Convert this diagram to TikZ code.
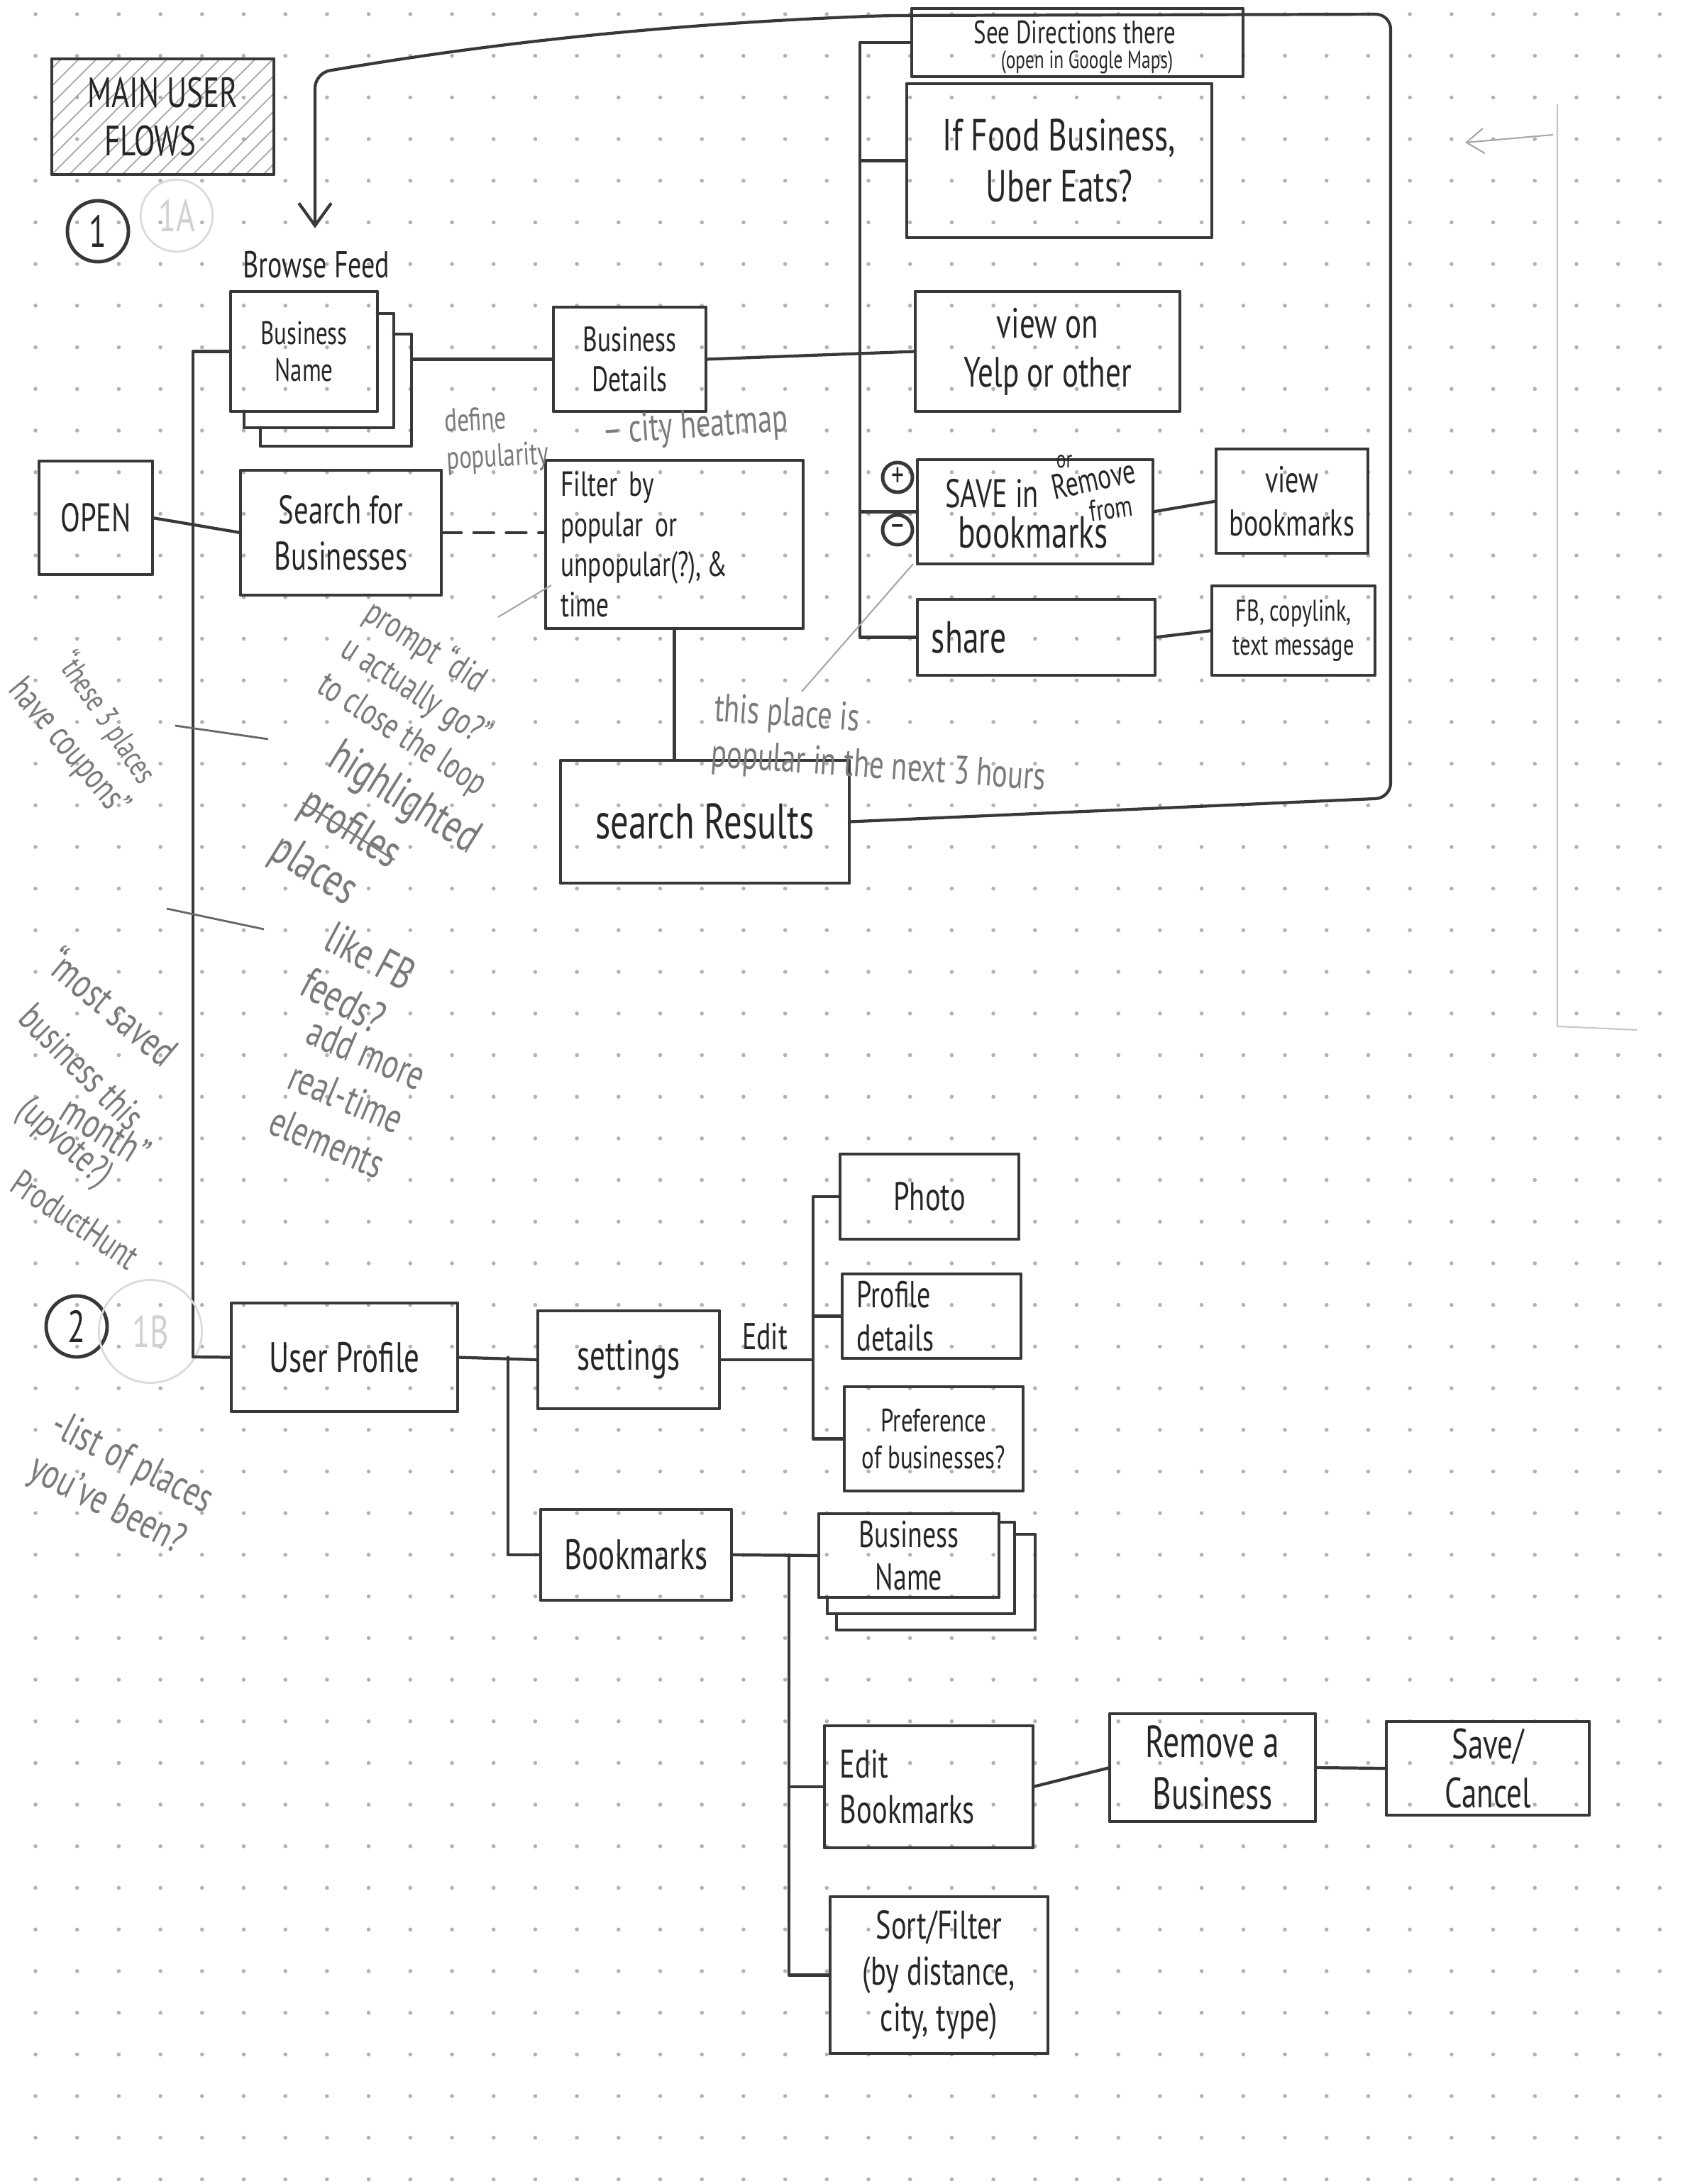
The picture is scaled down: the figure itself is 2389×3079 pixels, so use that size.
\documentclass[tikz,border=0pt]{standalone}
\usepackage{fontspec}
\setmainfont{PT Sans}[FakeStretch=0.72]
\usetikzlibrary{arrows.meta,patterns.meta}
\newcommand\fz[1]{\fontsize{#1}{\dimexpr#1pt*115/100\relax}\selectfont}
\newcommand\strikeout[1]{\setbox0\hbox{#1}\rlap{\usebox0}\rule[0.4ex]{\wd0}{0.7pt}}
% box from (x1,y1) to (x2,y2) in pixel units
\newcommand\bx[6][]{\node[box, minimum width={(#4-#2)*0.01cm}, minimum height={(#5-#3)*0.01cm}, #1] (#6) at ({(#2+#4)/2},{(#3+#5)/2})}
\newcommand\hb[5]{\node[hollow, minimum width={(#3-#1)*0.01cm}, minimum height={(#4-#2)*0.01cm}] (#5) at ({(#1+#3)/2},{(#2+#4)/2}) {};}
\begin{document}
\begin{tikzpicture}[x=0.01cm,y=-0.01cm,
  pencil/.style={draw=black!78, line width=1.4pt, line cap=round, line join=round},
  box/.style={pencil, rectangle, inner sep=0pt, outer sep=0pt, text=black!85, align=center},
  hollow/.style={rectangle, inner sep=0pt, outer sep=0pt},
  wire/.style={draw=black!78, line width=1.2pt, line cap=round, line join=round},
  note/.style={text=black!52, align=left, inner sep=1pt},
  noteline/.style={draw=black!60, line width=0.8pt},
  faint/.style={draw=black!35, line width=0.6pt},
  ghost/.style={draw=black!14, line width=0.8pt, text=black!18},
  ring/.style={pencil, circle, inner sep=0pt, text=black!85},
  lbl/.style={text=black!85, inner sep=1pt}
]
\useasboundingbox (0,0) rectangle (2389,3079);
\fill[white] (0,0) rectangle (2389,3079);
% dot grid
\foreach \i in {0,...,40}{\foreach \j in {0,...,52}{\fill[black!30] ({50+58.7*\i},{20+58.7*\j}) circle (0.8pt);}}

% ---------- flow 1 ----------
\bx[font=\fz{17}, align=left, pattern={Lines[angle=45,distance=5pt,line width=0.5pt]}, pattern color=black!35]{73}{83}{386}{246}{title} {MAIN USER\\\hspace{0.4em}FLOWS};
\node[ring, minimum size=0.86cm, font=\fz{18}] (c1) at (138,326) {1};
\node[ghost, draw, circle, minimum size=1.0cm, font=\fz{18}] (g1a) at (249,304) {1A};
\node[lbl, font=\fz{15}] (browse) at (446,373) {Browse Feed};

\hb{367}{471}{580}{629}{bnc}
\hb{344}{442}{555}{603}{bnb}
\bx[font=\fz{13}]{325}{411}{532}{580}{bn} {Business\\Name};
\draw[pencil] (bn.east |- bnb.north) -- (bnb.north east) -- (bnb.south east) -- (bnb.south west) -- (bnb.west |- bn.south);
\draw[pencil] (bnb.east |- bnc.north) -- (bnc.north east) -- (bnc.south east) -- (bnc.south west) -- (bnc.west |- bnb.south);

\bx[font=\fz{14}]{780}{433}{995}{580}{bd} {Business\\Details};
\bx[font=\fz{16}]{55}{650}{215}{810}{open} {OPEN};
\bx[font=\fz{16}]{339}{663}{622}{839}{search} {Search for\\Businesses};
\bx[font=\fz{14}, text width=3.2cm, align=left]{769}{649}{1132}{886}{filter} {Filter by\\popular or\\unpopular(?),\,\&\\time};
\bx[font=\fz{20}]{790}{1072}{1197}{1245}{results} {search Results};

\bx{1285}{12}{1752}{108}{dirs} {};
\node[lbl, font=\fz{13}] (dirst1) at (1515,46) {See Directions there};
\node[lbl, font=\fz{10}] (dirst2) at (1532,88) {(open in Google Maps)};
\bx[font=\fz{18}]{1278}{118}{1708}{335}{uber} {If Food Business,\\Uber Eats?};
\bx[font=\fz{17}]{1290}{411}{1663}{580}{yelp} {view on\\Yelp or other};
\bx{1293}{648}{1625}{795}{save} {};
\node[lbl, font=\fz{16}, anchor=west] (savet) at (1328,696) {SAVE in};
\node[lbl, font=\fz{14}, rotate=12] (remt) at (1541,675) {Remove};
\node[lbl, font=\fz{10}] (ort) at (1500,651) {or};
\node[lbl, font=\fz{12}, rotate=8] (fromt) at (1566,717) {from};
\node[lbl, font=\fz{18}] (bkt) at (1456,751) {bookmarks};
\node[ring, minimum size=0.42cm, font=\fz{14}] (plus) at (1265,673) {+};
\node[ring, minimum size=0.42cm, font=\fz{14}] (minus) at (1265,747) {–};
\bx[font=\fz{15}]{1714}{633}{1928}{780}{vbm} {view\\bookmarks};
\bx[font=\fz{18}, text width=2.95cm, align=left]{1293}{845}{1628}{952}{share} {share};
\bx[font=\fz{12}]{1708}{826}{1938}{952}{fb} {FB, copylink,\\text message};

% connectors flow 1
\coordinate (trunk) at (272,1913);
\draw[wire] (bn.west) -- (bn.west -| trunk) -- (trunk);
\draw[wire] (open.east) -- (search.west);
\draw[wire] (bd.west -| bnc.east) -- (bd.west);
\draw[wire] (bd.east) -- (yelp.west);
\coordinate (ib) at (1212,0);
\draw[wire] (dirs.west) -- (dirs.west -| ib) -- (ib |- share.west) -- (share.west);
\draw[wire] (uber.west) -- (uber.west -| ib);
\draw[wire] (save.west) -- (save.west -| ib);
\draw[wire] (save.east) -- (vbm.west);
\draw[wire] (share.east) -- (fb.west);
\draw[wire, dash pattern=on 8pt off 5pt] (search.east) -- (search.east -| filter.west);
\draw[wire] (filter.south) -- (filter.south |- results.north);
\coordinate (frb) at (1960,1125);
\coordinate (frt) at (1960,20);
\coordinate (topl) at (1250,22);
\coordinate (kink) at (444,103);
\draw[wire, rounded corners=6pt, shorten >=8pt, -{Straight Barb[length=9pt,width=13pt]}]
  (results.east) -- (frb) -- (frt) -- (topl) .. controls (900,35) and (650,68) .. (kink) -- (kink |- browse.north);

% ---------- flow 2 ----------
\node[ring, minimum size=0.86cm, font=\fz{18}] (c2) at (108,1870) {2};
\node[ghost, draw, circle, minimum size=1.45cm, font=\fz{18}] (g1b) at (212,1877) {1B};
\bx[font=\fz{17}]{326}{1837}{645}{1990}{up} {User Profile};
\bx[font=\fz{17}]{758}{1848}{1014}{1986}{settings} {settings};
\node[lbl, font=\fz{15}] (editl) at (1078,1884) {Edit};
\bx[font=\fz{16}]{1184}{1627}{1436}{1747}{photo} {Photo};
\bx[font=\fz{15}, text width=2.1cm, align=left]{1187}{1796}{1439}{1915}{profd} {Profile\\details};
\bx[font=\fz{13}]{1190}{1955}{1442}{2102}{pref} {Preference\\of businesses?};
\bx[font=\fz{17}]{762}{2128}{1031}{2256}{bmk} {Bookmarks};

\hb{1179}{2163}{1459}{2298}{bn2c}
\hb{1166}{2146}{1430}{2275}{bn2b}
\bx[font=\fz{15}]{1154}{2134}{1408}{2252}{bn2} {Business\\Name};
\draw[pencil] (bn2.east |- bn2b.north) -- (bn2b.north east) -- (bn2b.south east) -- (bn2b.south west) -- (bn2b.west |- bn2.south);
\draw[pencil] (bn2b.east |- bn2c.north) -- (bn2c.north east) -- (bn2c.south east) -- (bn2c.south west) -- (bn2c.west |- bn2b.south);

\bx[font=\fz{16}, text width=2.5cm, align=left]{1162}{2433}{1456}{2605}{ebm} {Edit\\Bookmarks};
\bx[font=\fz{18}]{1564}{2416}{1854}{2568}{rem} {Remove a\\Business};
\bx[font=\fz{17}]{1954}{2427}{2240}{2559}{sc} {Save/\\Cancel};
\bx[font=\fz{16}]{1170}{2674}{1477}{2895}{sort} {Sort/Filter\\(by distance,\\city, type)};

% connectors flow 2
\draw[wire] (trunk) -- (up.west);
\draw[wire] (up.east) -- (settings.west);
\coordinate (lb) at (716,0);
\draw[wire] (up.east -| lb) |- (bmk.west);
\coordinate (eb) at (1146,0);
\draw[wire] (settings.east) -- (settings.east -| eb);
\draw[wire] (photo.west) -| (eb |- pref.west) -- (pref.west);
\draw[wire] (profd.west) -- (profd.west -| eb);
\coordinate (bb) at (1112,0);
\draw[wire] (bmk.east) -- (bn2.west);
\draw[wire] (bmk.east -| bb) |- (sort.west);
\draw[wire] (ebm.west) -- (ebm.west -| bb);
\draw[wire] (ebm.east) -- (rem.west);
\draw[wire] (rem.east) -- (sc.west);

% ---------- annotations ----------
\node[note, font=\fz{13}, rotate=3] (n1) at (700,620) {define\\popularity};
\node[note, font=\fz{16}, rotate=4, anchor=west] (n2) at (845,612) {– city heatmap};
\node[note, font=\fz{16}, rotate=-4, anchor=north west] (n3) at (1005,972) {this place is\\popular in the next 3 hours};
\node[note, font=\fz{15}, rotate=-33] (n4) at (600,985) {prompt “did\\u actually go?”\\to close the loop};
\node[note, font=\fz{13}, rotate=-56, anchor=west] (n5a) at (88,922) {“these 3 places};
\node[note, font=\fz{15}, rotate=-50, anchor=west] (n5b) at (18,962) {have coupons”};
\node[note, font=\fz{19}, rotate=-32] (n6) at (528,1192) {highlighted\\\strikeout{profiles}\\places};
\node[note, font=\fz{18}, rotate=-28] (n7) at (505,1380) {like FB\\feeds?};
\node[note, font=\fz{17}, rotate=-23] (n8) at (490,1548) {add more\\real-time\\elements};
\node[note, font=\fz{17}, rotate=-40, anchor=west] (n9a) at (72,1345) {“most saved};
\node[note, font=\fz{16}, rotate=-45, anchor=west] (n9b) at (34,1422) {business this};
\node[note, font=\fz{17}, rotate=-32, anchor=west] (n9c) at (88,1557) {month”};
\node[note, font=\fz{16}, rotate=-42, anchor=west] (n9d) at (28,1556) {(upvote?)};
\node[note, font=\fz{15}, rotate=-34, anchor=west] (n9e) at (18,1660) {ProductHunt};
\node[note, font=\fz{17}, rotate=-27] (n10) at (170,2095) {-list of places\\you’ve been?};

\coordinate (l1a) at (247,1023); \coordinate (l1b) at (378,1042);
\draw[noteline] (l1a) -- (l1b);
\coordinate (l2a) at (235,1281); \coordinate (l2b) at (372,1310);
\draw[noteline] (l2a) -- (l2b);
\coordinate (p1a) at (777,825); \coordinate (p1b) at (702,870);
\draw[faint] (p1a) -- (p1b);
\coordinate (p2a) at (1287,795); \coordinate (p2b) at (1130,975);
\draw[faint] (p2a) -- (p2b);
\coordinate (ra1) at (2189,190); \coordinate (ra2) at (2065,201);
\draw[faint, -{Straight Barb[length=7pt,width=10pt]}] (ra1) -- (ra2);
\coordinate (rb1) at (2195,147); \coordinate (rb2) at (2195,1447); \coordinate (rb3) at (2307,1452);
\draw[faint, draw=black!22] (rb1) -- (rb2) -- (rb3);
\end{tikzpicture}
\end{document}
